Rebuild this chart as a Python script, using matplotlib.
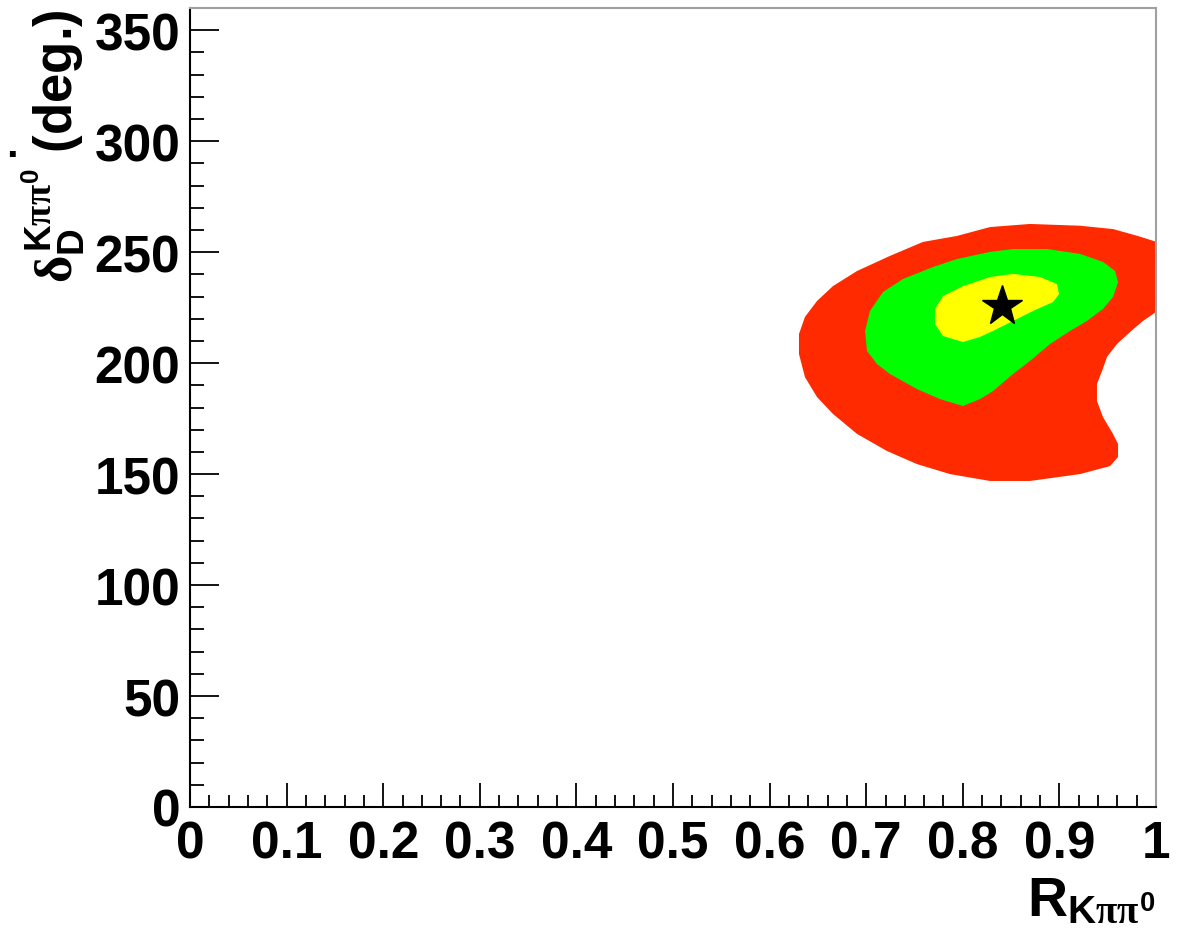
import matplotlib
matplotlib.use("Agg")
import matplotlib.pyplot as plt
from matplotlib.ticker import MultipleLocator, FuncFormatter

# ---- data ----
# 3 confidence regions, boundaries in data coordinates (R, delta)
red_R = [0.6304, 0.6304, 0.6366, 0.6491, 0.6656, 0.6905, 0.7246, 0.7588, 0.7940,
         0.8282, 0.8696, 0.9213, 0.9555, 0.9803, 1.000, 1.000, 0.9865, 0.9731,
         0.9596, 0.9493, 0.9441, 0.9389, 0.9389, 0.9451, 0.9555, 0.9607, 0.9607,
         0.9524, 0.9213, 0.8696, 0.8282, 0.7867, 0.7526, 0.7215, 0.6905, 0.6656,
         0.6491, 0.6366]
red_D = [204.1, 213.1, 220.8, 228.0, 234.7, 241.5, 248.3, 254.6, 257.3,
         261.3, 262.7, 261.9, 260.4, 257.4, 254.7, 223.0, 219.0, 214.0,
         208.6, 202.8, 196.4, 190.6, 182.9, 175.7, 168.1, 163.6, 157.7,
         153.6, 150.0, 146.9, 146.9, 150.0, 154.5, 160.4, 168.1, 177.1,
         184.7, 193.7]

green_R = [0.6988, 0.7039, 0.7174, 0.7381, 0.7692, 0.7940, 0.8282, 0.8520, 0.8872,
           0.9213, 0.9451, 0.9576, 0.9607, 0.9555, 0.9451, 0.9286, 0.9110, 0.8903,
           0.8696, 0.8520, 0.8313, 0.8178, 0.8002, 0.7764, 0.7526, 0.7246, 0.7112,
           0.7008]
green_D = [214.5, 223.5, 232.0, 237.9, 243.3, 246.9, 250.1, 251.4, 251.4,
           249.2, 245.6, 241.5, 236.5, 229.8, 224.4, 219.0, 214.5, 208.6,
           201.0, 195.1, 187.4, 183.8, 180.7, 183.8, 188.3, 195.1, 199.6,
           205.5]

yellow_R = [0.7712, 0.7712, 0.7795, 0.8002, 0.8282, 0.8520, 0.8799, 0.8975, 0.8996,
            0.8934, 0.8727, 0.8520, 0.8313, 0.8178, 0.8002, 0.7795]
yellow_D = [217.6, 224.4, 230.2, 234.7, 238.8, 240.2, 238.8, 235.6, 231.1,
            227.5, 223.5, 219.0, 214.5, 211.8, 209.5, 212.2]

best_R = [0.8406]
best_D = [225.8]

x_range = [0.0, 1.0]
y_range = [0.0, 360.0]

# ---- style ----
plt.rcParams['font.family'] = ['Liberation Sans', 'DejaVu Sans']
plt.rcParams['font.weight'] = 'bold'
plt.rcParams['mathtext.fontset'] = 'custom'
plt.rcParams['mathtext.rm'] = 'Liberation Sans:bold'
plt.rcParams['mathtext.bf'] = 'Liberation Sans:bold'
plt.rcParams['mathtext.it'] = 'Liberation Serif'

fig = plt.figure(figsize=(11.82, 9.37), dpi=100)
ax = fig.add_axes([190/1182, 1-808/937, (1156-190)/1182, (808-9)/937])

ax.fill(red_R, red_D, color='#ff2a00', lw=0, zorder=1)
ax.fill(green_R, green_D, color='#00ff00', lw=0, zorder=2)
ax.fill(yellow_R, yellow_D, color='#ffff00', lw=0, zorder=3)
ax.plot(best_R, best_D, marker='*', color='black', ms=30, ls='none', zorder=4)

ax.set_xlim(*x_range)
ax.set_ylim(*y_range)

ax.xaxis.set_major_locator(MultipleLocator(0.1))
ax.xaxis.set_minor_locator(MultipleLocator(0.02))
ax.yaxis.set_major_locator(MultipleLocator(50))
ax.yaxis.set_minor_locator(MultipleLocator(10))
ax.xaxis.set_major_formatter(FuncFormatter(lambda v, p: ('%g' % round(v, 3))))
ax.yaxis.set_major_formatter(FuncFormatter(lambda v, p: ('%d' % round(v))))

ax.tick_params(axis='x', which='major', direction='in', length=17, width=1.3,
               labelsize=37, pad=9, color='black')
ax.tick_params(axis='x', which='minor', direction='in', length=8.6, width=1.3, color='black')
ax.tick_params(axis='y', which='major', direction='in', length=21, width=1.3,
               labelsize=37, pad=7, color='black')
ax.tick_params(axis='y', which='minor', direction='in', length=10, width=1.3, color='black')
ax.tick_params(top=False, right=False, which='both')

for lab in ax.get_xticklabels() + ax.get_yticklabels():
    lab.set_fontweight('bold')

ax.spines['left'].set_color('black')
ax.spines['bottom'].set_color('black')
ax.spines['left'].set_linewidth(1.5)
ax.spines['bottom'].set_linewidth(1.5)
ax.spines['top'].set_color('#a0a0a0')
ax.spines['right'].set_color('#a0a0a0')
ax.spines['top'].set_linewidth(1.5)
ax.spines['right'].set_linewidth(1.5)

ax.set_xlabel(r'R$_{\mathrm{K}\pi\pi^{0}}$', fontsize=40, fontweight='bold', loc='right')
ax.xaxis.set_label_coords(1.0, -0.085)
ax.xaxis.label.set_va('top')
ax.set_ylabel(r'$\delta_{\mathrm{D}}^{\mathrm{K}\pi\pi^{0}}$ (deg.)', fontsize=38,
              fontweight='bold', loc='top')
ax.yaxis.set_label_coords(-0.107, 1.0)

fig.text(12/1182, 1-157/937, '.', fontsize=30, fontweight='bold', ha='center', va='baseline')

fig.savefig('out.png', dpi=100)
